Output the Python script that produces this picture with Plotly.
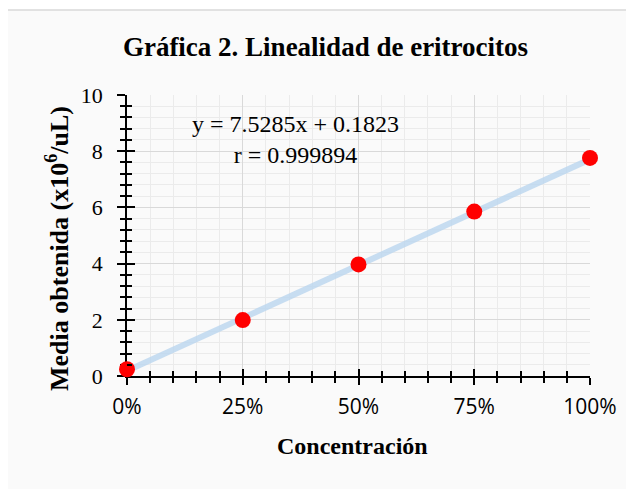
import numpy as np
import plotly.graph_objects as go

# datos
concentracion = [0.0, 0.25, 0.50, 0.75, 1.00]
media = [0.24, 1.99, 3.97, 5.85, 7.76]

# linea de tendencia (coeficientes de la etiqueta)
pendiente = 7.5285
intercepto = 0.1823
r_valor = 0.999894

serif = "Liberation Serif"
sans = "Open Sans"

# la pagina deja 8px de margen en el body
W, H = 626, 481

x_tend = np.array([concentracion[0], concentracion[-1]])
y_tend = pendiente * x_tend + intercepto

fig = go.Figure()

fig.add_trace(go.Scatter(x=x_tend, y=y_tend, mode="lines",
                         line=dict(color="rgba(189,215,238,0.85)", width=6),
                         hoverinfo="skip", showlegend=False))
fig.add_trace(go.Scatter(x=concentracion, y=media, mode="markers",
                         marker=dict(color="#ff0000", size=16),
                         cliponaxis=False, showlegend=False))
# traza invisible para los ejes superpuestos (marcas cruzadas)
fig.add_trace(go.Scatter(x=concentracion, y=media, mode="markers",
                         marker=dict(opacity=0), xaxis="x2", yaxis="y2",
                         hoverinfo="skip", showlegend=False))

eje_x = dict(range=[0, 1], dtick=0.25, tickformat=".0%",
             showline=True, linecolor="black", linewidth=1.5,
             ticks="outside", ticklen=7, tickwidth=1.5, tickcolor="black",
             showgrid=True, gridcolor="#d9d9d9", gridwidth=1,
             minor=dict(dtick=0.05, ticks="outside", ticklen=5, tickwidth=1.5,
                        tickcolor="black", showgrid=True, gridcolor="#ebebeb"),
             tickfont=dict(family=sans, size=21, color="black"),
             ticklabelstandoff=4, zeroline=False, layer="below traces")
eje_y = dict(range=[0, 10], dtick=2,
             showline=True, linecolor="black", linewidth=1.5,
             ticks="outside", ticklen=8, tickwidth=1.5, tickcolor="black",
             showgrid=True, gridcolor="#d9d9d9", gridwidth=1,
             minor=dict(dtick=0.4, ticks="outside", ticklen=5, tickwidth=1.5,
                        tickcolor="black", showgrid=True, gridcolor="#ebebeb"),
             tickfont=dict(family=serif, size=22, color="black"),
             ticklabelstandoff=10, zeroline=False, layer="below traces")

fig.update_layout(
    width=W, height=H,
    margin=dict(l=119, r=44, t=87, b=113),
    paper_bgcolor="white", plot_bgcolor="rgba(0,0,0,0)",
    xaxis=eje_x, yaxis=eje_y,
    xaxis2=dict(overlaying="x", anchor="y2", range=[0, 1], dtick=0.25,
                showticklabels=False, showgrid=False, zeroline=False,
                ticks="inside", ticklen=7, tickwidth=1.5, tickcolor="black",
                minor=dict(dtick=0.05, ticks="inside", ticklen=5,
                           tickwidth=1.5, tickcolor="black")),
    yaxis2=dict(overlaying="y", anchor="x2", range=[0, 10], dtick=2,
                showticklabels=False, showgrid=False, zeroline=False,
                ticks="inside", ticklen=8, tickwidth=1.5, tickcolor="black",
                minor=dict(dtick=0.4, ticks="inside", ticklen=5,
                           tickwidth=1.5, tickcolor="black")),
    title=dict(text="<b>Gráfica 2. Linealidad de eritrocitos</b>",
               x=(325.5 - 8) / W, y=1 - (47 - 8) / H,
               xanchor="center", yanchor="middle",
               font=dict(family=serif, size=27, color="black")),
    showlegend=False,
    hovermode=False,
)

# marco del area del grafico
fig.add_shape(type="rect", xref="paper", yref="paper",
              x0=-0.2635, x1=1.3, y0=-0.6, y1=1.3025,
              line=dict(color="#d9d9d9", width=1.5),
              fillcolor="#fafafa", layer="below")

fig.add_annotation(text="<b>Media obtenida (x10<sup>6</sup>/uL)</b>",
                   xref="paper", yref="paper", x=-0.1512, y=0.4555,
                   textangle=-90, showarrow=False,
                   xanchor="center", yanchor="middle",
                   font=dict(family=serif, size=26, color="black"))
fig.add_annotation(text="<b>Concentración</b>",
                   xref="paper", yref="paper", x=0.486, y=-0.249,
                   showarrow=False, xanchor="center", yanchor="middle",
                   font=dict(family=serif, size=24, color="black"))
fig.add_annotation(text=f"y = {pendiente}x + {intercepto}<br>r = {r_valor}",
                   xref="paper", yref="paper", x=0.3629, y=0.8434,
                   showarrow=False, xanchor="center", yanchor="middle",
                   font=dict(family=serif, size=24, color="black"))

fig.write_html("out.html")
